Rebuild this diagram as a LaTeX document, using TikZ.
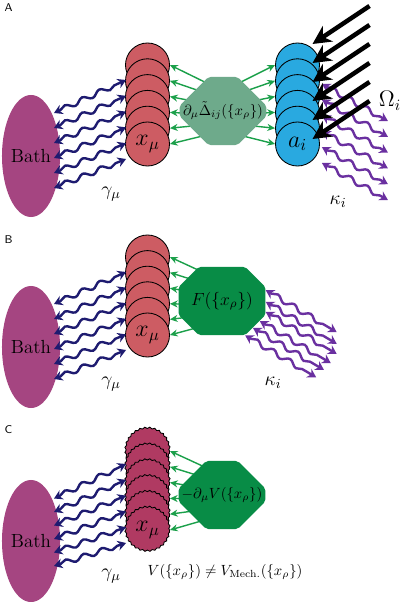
\documentclass[tikz,border=0pt]{standalone}
\usepackage{fix-cm}
\usepackage{amsmath,amssymb}
\usepackage{xcolor}
\usetikzlibrary{arrows.meta,positioning,shapes.geometric,shapes.misc,calc,decorations.pathmorphing}
\definecolor{bathpurple}{HTML}{A54581}
\definecolor{navy}{HTML}{1E1B70}
\definecolor{kappapurple}{HTML}{6A30A0}
\definecolor{arrowgreen}{HTML}{1BA04A}
\definecolor{forcegreen}{HTML}{088C46}
\definecolor{palegreen}{HTML}{6EAA8B}
\definecolor{mechred}{HTML}{CD5C63}
\definecolor{noisered}{HTML}{B03A62}
\definecolor{cavblue}{HTML}{29A9E0}
\tikzset{
  bath/.style={ellipse, fill=bathpurple, minimum width=1.45cm, minimum height=3.05cm, inner sep=0pt, font=\fontsize{13.5}{15}\selectfont},
  mech/.style={circle, draw=black, line width=0.6pt, fill=mechred, minimum size=1.1cm, inner sep=0pt, font=\fontsize{17}{20}\selectfont},
  noisymech/.style={mech, fill=noisered, decorate, decoration={snake, amplitude=0.5pt, segment length=3.5pt}},
  cavity/.style={mech, fill=cavblue},
  octa/.style={chamfered rectangle, chamfered rectangle xsep=0.48cm, chamfered rectangle ysep=0.5cm, minimum width=2.17cm, minimum height=1.7cm, inner xsep=-0.5cm, inner ysep=0pt, rounded corners=1.5pt, fill=forcegreen},
  damp/.style={draw=navy, line width=1.7pt, {Stealth[length=6pt,width=7pt]}-{Stealth[length=6pt,width=7pt]}, decorate, decoration={snake, amplitude=1.8pt, segment length=13.5pt, pre length=5pt, post length=5pt}},
  leak/.style={damp, draw=kappapurple},
  force/.style={-{Stealth[length=5.5pt,width=5pt]}, draw=arrowgreen, line width=1pt},
  drive/.style={-{Stealth[length=13pt,width=13pt,inset=4pt]}, line width=3.2pt, draw=black},
  tag/.style={font=\sffamily\fontsize{8}{9}\selectfont, anchor=north west, inner sep=1pt},
  rate/.style={font=\fontsize{14}{16}\selectfont}
}
\begin{document}
\begin{tikzpicture}[x=0.025cm, y=-0.025cm]
\useasboundingbox (0,0) rectangle (406,602);
\fill[white] (0,0) rectangle (406,602);
\node[tag] (tagA) at (3,2) {A};
\node[bath] (bathA) at (31,156) {Bath};
\coordinate (cA) at (223,111);
\foreach \i in {1,...,5} \node[mech] (xA\i) at (147.5,{49.2+15.8*\i}) {};
\node[mech] (xA6) at (147.5,144) {$x_\mu$};
\foreach \i in {1,...,5} \node[cavity] (aA\i) at (297.5,{49.2+15.8*\i}) {};
\node[cavity] (aA6) at (297.5,144) {$a_i$};
\foreach \i in {1,...,6} {
  \draw[force] ($(cA)+(0,{-28+8*\i})$) -- (xA\i.east);
  \draw[force] ($(cA)+(0,{-28+8*\i})$) -- (aA\i.west);
}
\node[octa, fill=palegreen, font=\fontsize{10.5}{13}\selectfont] (oA) at (cA) {$\partial_\mu\tilde{\Delta}_{ij}(\{x_\rho\})$};
\foreach \i in {1,...,6} {
  \coordinate (gA\i) at ($(bathA.center)+(23,{-58+15*\i})$);
  \draw[damp] (gA\i) -- ($(xA\i.west)+(1,15)$);
  \draw[leak] ($(aA\i.east)+(2,19)$) -- ($(aA\i.east)+(68,56)$);
}
\foreach \i in {1,...,6} {
  \coordinate (wA\i) at ($(aA\i.center)+(72,{-62.2+3.2*\i})$);
  \draw[drive] (wA\i) -- ($(aA\i.center)+(15,{-24.2+3.2*\i})$);
}
\node[font=\fontsize{16}{18}\selectfont] (omA) at (390,101) {$\Omega_i$};
\node[rate] (kA) at (338,202) {$\kappa_i$};
\node[rate] (gamA) at (111,194) {$\gamma_\mu$};

\node[tag] (tagB) at (3,234) {B};
\node[bath] (bathB) at (31,347) {Bath};
\coordinate (cB) at (222,301);
\foreach \i in {1,...,5} \node[mech] (xB\i) at (147.5,{241.4+15.6*\i}) {};
\node[mech] (xB6) at (147.5,335) {$x_\mu$};
\foreach \i in {1,...,6} \draw[force] ($(cB)+(0,{-28+8*\i})$) -- (xB\i.east);
\node[octa, font=\fontsize{12.5}{15}\selectfont] (oB) at (cB) {$F(\{x_\rho\})$};
\foreach \i in {1,...,6} {
  \coordinate (gB\i) at ($(bathB.center)+(23,{-58+15*\i})$);
  \draw[damp] (gB\i) -- ($(xB\i.west)+(1,15)$);
}
\foreach \a in {14,-1,-14,-28,-41,-56} \draw[leak] (oB.\a) -- ($(oB.\a)+(71,42)$);
\node[rate] (kB) at (273,383) {$\kappa_i$};
\node[rate] (gamB) at (111,384) {$\gamma_\mu$};

\node[tag] (tagC) at (3,424) {C};
\node[bath] (bathC) at (31,541) {Bath};
\coordinate (cC) at (222,495);
\foreach \i in {1,...,5} \node[noisymech] (xC\i) at (147.5,{435.2+15.8*\i}) {};
\node[noisymech] (xC6) at (147.5,530) {$x_\mu$};
\foreach \i in {1,...,6} \draw[force] ($(cC)+(0,{-28+8*\i})$) -- (xC\i.east);
\node[octa, font=\fontsize{10.5}{13}\selectfont] (oC) at (cC) {$-\partial_\mu V(\{x_\rho\})$};
\foreach \i in {1,...,6} {
  \coordinate (gC\i) at ($(bathC.center)+(23,{-56+13.5*\i})$);
  \draw[damp] (gC\i) -- ($(xC\i.west)+(1,13)$);
}
\node[font=\fontsize{10.5}{13}\selectfont] (neq) at (225,572) {$V(\{x_\rho\})\neq V_{\mathrm{Mech.}}(\{x_\rho\})$};
\node[rate] (gamC) at (111,576) {$\gamma_\mu$};
\end{tikzpicture}
\end{document}
